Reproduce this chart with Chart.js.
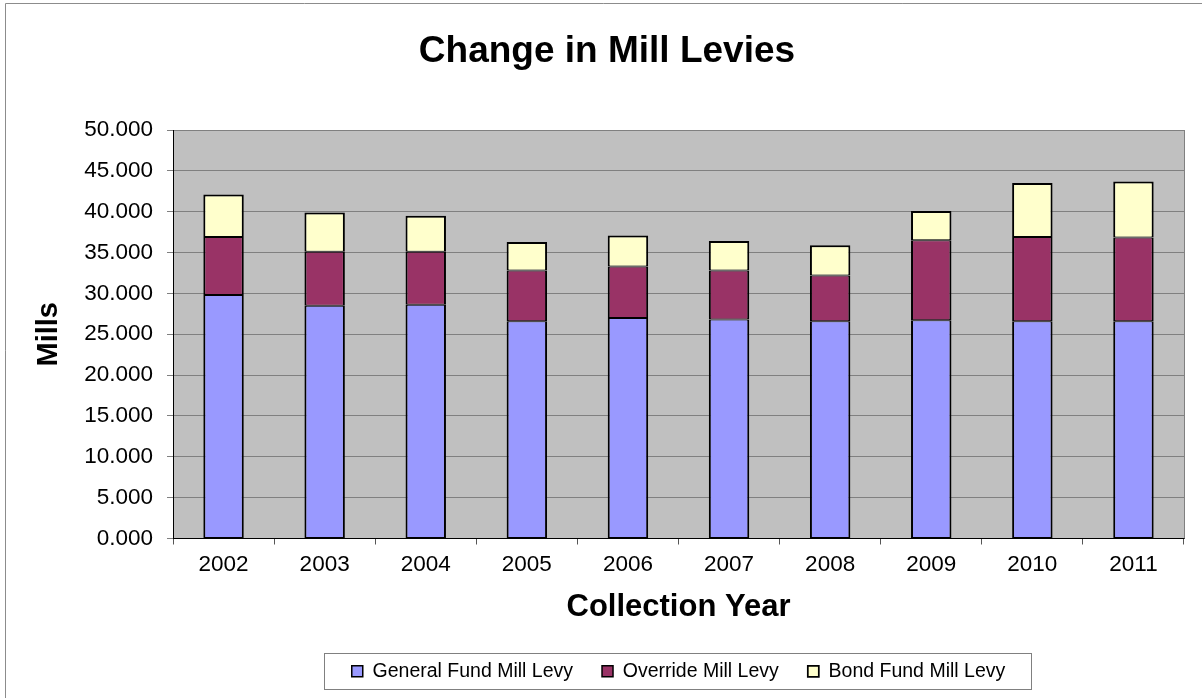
<!DOCTYPE html>
<html>
<head>
<meta charset="utf-8">
<script src="https://cdn.jsdelivr.net/npm/chart.js@4"></script>
<style>
    body { margin: 0; background: #ffffff; }
    #wrap { width: 1202px; height: 698px; }
</style>
</head>
<body>
<div id="wrap"><canvas id="millChart" width="1202" height="698"></canvas></div>
<script>
// Chart data
const years = ['2002', '2003', '2004', '2005', '2006', '2007', '2008', '2009', '2010', '2011'];
const generalFund = [29.8, 28.5, 28.6, 26.6, 27.0, 26.8, 26.6, 26.7, 26.6, 26.6];
const overrideLevy = [7.1, 6.6, 6.5, 6.2, 6.3, 6.0, 5.6, 9.8, 10.3, 10.25];
const bondFund = [5.2, 4.8, 4.4, 3.5, 3.8, 3.6, 3.7, 3.6, 6.6, 6.85];
const yMin = 0;
const yMax = 50;
const yStep = 5;

const FONT = '"Liberation Sans", Arial, sans-serif';

// Plot background, outer frame and legend frame
const framePlugin = {
    id: 'framePlugin',
    beforeDraw(chart) {
        const ctx = chart.ctx;
        const a = chart.chartArea;
        ctx.save();
        ctx.fillStyle = '#ffffff';
        ctx.fillRect(0, 0, chart.width, chart.height);
        // only the left and top edges of the outer frame are in the picture
        ctx.strokeStyle = '#8c8c8c';
        ctx.lineWidth = 1;
        ctx.beginPath();
        ctx.moveTo(5.5, chart.height);
        ctx.lineTo(5.5, 3.5);
        ctx.lineTo(chart.width, 3.5);
        ctx.stroke();
        ctx.fillStyle = '#c0c0c0';
        ctx.fillRect(a.left, a.top, a.right - a.left, a.bottom - a.top);
        ctx.restore();
    },
    beforeDatasetsDraw(chart) {
        const ctx = chart.ctx;
        const a = chart.chartArea;
        ctx.save();
        ctx.strokeStyle = '#808080';
        ctx.lineWidth = 1;
        ctx.beginPath();
        ctx.moveTo(Math.round(a.right) + 0.5, a.top);
        ctx.lineTo(Math.round(a.right) + 0.5, a.bottom);
        ctx.stroke();
        ctx.restore();
    },
    afterDraw(chart) {
        const lg = chart.legend;
        if (!lg || !lg.legendHitBoxes || !lg.legendHitBoxes.length) return;
        const boxes = lg.legendHitBoxes;
        const first = boxes[0];
        const last = boxes[boxes.length - 1];
        const ctx = chart.ctx;
        ctx.save();
        ctx.strokeStyle = '#808080';
        ctx.lineWidth = 1;
        const x1 = Math.round(first.left - 28) + 0.5;
        const x2 = Math.round(last.left + last.width + 26) + 0.5;
        const cy = first.top + first.height / 2;
        ctx.strokeRect(x1, Math.round(cy - 18) + 0.5, x2 - x1, 36);
        ctx.restore();
    }
};

// thinner top/bottom so stacked segments meet in a single 2px line
const segBorder = { top: 1, bottom: 1, left: 2, right: 2 };

const ctx = document.getElementById('millChart').getContext('2d');
new Chart(ctx, {
    type: 'bar',
    data: {
        labels: years,
        datasets: [
            {
                label: 'General Fund Mill Levy',
                data: generalFund,
                backgroundColor: '#9999ff',
                borderColor: '#000000',
                borderWidth: segBorder,
                borderSkipped: false
            },
            {
                label: 'Override Mill Levy',
                data: overrideLevy,
                backgroundColor: '#993366',
                borderColor: '#000000',
                borderWidth: segBorder,
                borderSkipped: false
            },
            {
                label: 'Bond Fund Mill Levy',
                data: bondFund,
                backgroundColor: '#ffffcc',
                borderColor: '#000000',
                borderWidth: { top: 2, bottom: 1, left: 2, right: 2 },
                borderSkipped: false
            }
        ]
    },
    options: {
        responsive: false,
        animation: false,
        devicePixelRatio: 1,
        layout: {
            padding: { left: 30, right: 18, top: 0, bottom: 7 }
        },
        datasets: {
            bar: {
                categoryPercentage: 0.8,
                barPercentage: 0.5
            }
        },
        scales: {
            x: {
                stacked: true,
                afterFit(scale) {
                    scale.height = 94;
                },
                grid: {
                    drawOnChartArea: false,
                    drawTicks: true,
                    tickLength: 6,
                    tickColor: '#555555'
                },
                border: { color: '#000000', width: 1 },
                ticks: {
                    color: '#000000',
                    font: { family: FONT, size: 22.5 },
                    padding: 7,
                    maxRotation: 0
                },
                title: {
                    display: true,
                    text: 'Collection Year',
                    color: '#000000',
                    font: { family: FONT, size: 31, weight: 'bold' },
                    padding: { top: 0, bottom: 6 }
                }
            },
            y: {
                stacked: true,
                min: yMin,
                max: yMax,
                afterFit(scale) {
                    scale.width = 143;
                },
                grid: {
                    color: '#808080',
                    drawTicks: true,
                    tickLength: 6,
                    tickColor: '#808080'
                },
                border: { color: '#000000', width: 1 },
                ticks: {
                    stepSize: yStep,
                    color: '#000000',
                    font: { family: FONT, size: 22.5 },
                    padding: 14,
                    callback: value => value.toFixed(3)
                },
                title: {
                    display: true,
                    text: 'Mills',
                    color: '#000000',
                    font: { family: FONT, size: 29, weight: 'bold' },
                    padding: { top: 2, bottom: 0 }
                }
            }
        },
        plugins: {
            title: {
                display: true,
                text: 'Change in Mill Levies',
                color: '#000000',
                font: { family: FONT, size: 37, weight: 'bold' },
                padding: { top: 30, bottom: 55.6 }
            },
            legend: {
                position: 'bottom',
                fullSize: false,
                labels: {
                    color: '#000000',
                    font: { family: FONT, size: 19.5 },
                    boxWidth: 11,
                    boxHeight: 11,
                    padding: 29
                }
            },
            tooltip: { enabled: false }
        }
    },
    plugins: [framePlugin]
});
</script>
</body>
</html>
